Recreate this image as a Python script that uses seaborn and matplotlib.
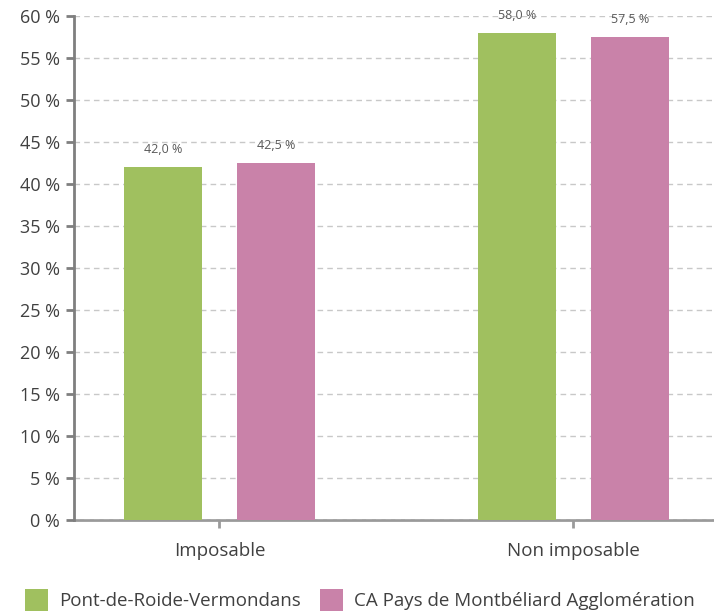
import pandas as pd
import numpy as np
import seaborn as sns
import matplotlib.pyplot as plt

# data
categories = ['Imposable', 'Non imposable']
series = ['Pont-de-Roide-Vermondans', 'CA Pays de Montbéliard Agglomération']
vals_pont = [42.0, 58.0]
vals_ca = [42.5, 57.5]
colors = ['#A0C05F', '#C982A9']

df = pd.DataFrame({
    'cat': categories * 2,
    'serie': [series[0]] * 2 + [series[1]] * 2,
    'val': vals_pont + vals_ca,
})

sns.set_style('white')
plt.rcParams['font.family'] = ['Open Sans', 'DejaVu Sans']

fig = plt.figure(figsize=(7.14, 6.13), dpi=100)
ax = fig.add_axes([74 / 714, 1 - 520 / 613, 640 / 714, 504 / 613])

sns.barplot(data=df, x='cat', y='val', hue='serie', palette=colors,
            width=0.64, gap=0.3125, saturation=1, linewidth=0,
            ax=ax, legend=True)

ax.set_ylim(0, 60)
ax.set_xlim(-0.411, 1.397)
ax.set_yticks(np.arange(0, 61, 5))
ax.set_yticklabels([f'{v} %' for v in range(0, 61, 5)])
ax.set_xlabel('')
ax.set_ylabel('')

ax.grid(axis='y', color='#c8c8c8', linestyle=(0, (4, 3)), linewidth=1)
ax.set_axisbelow(True)

for s in ['top', 'right']:
    ax.spines[s].set_visible(False)
ax.spines['left'].set_color('#7f7f7f')
ax.spines['left'].set_linewidth(2)
ax.spines['bottom'].set_color('#9a9a9a')
ax.spines['bottom'].set_linewidth(2)
ax.spines['bottom'].set_zorder(0.5)

ax.tick_params(axis='y', left=True, length=6, width=2, color='#7f7f7f',
               labelsize=13, labelcolor='#404040', pad=4)
ax.tick_params(axis='x', bottom=True, length=6, width=2, color='#9a9a9a',
               labelsize=13.5, labelcolor='#404040', pad=10)

for cont in ax.containers:
    ax.bar_label(cont, labels=[f'{v:.1f} %'.replace('.', ',') for v in cont.datavalues],
                 padding=8, fontsize=9, color='#595959')

handles, labels = ax.get_legend_handles_labels()
ax.legend(handles, labels, loc='lower left', bbox_to_anchor=(-57 / 640, -0.195),
          ncol=2, frameon=False, fontsize=13.5, labelcolor='#404040',
          handlelength=1.25, handleheight=1.45, handletextpad=0.6,
          columnspacing=1.0, borderaxespad=0)

fig.savefig('out.png', dpi=100)
